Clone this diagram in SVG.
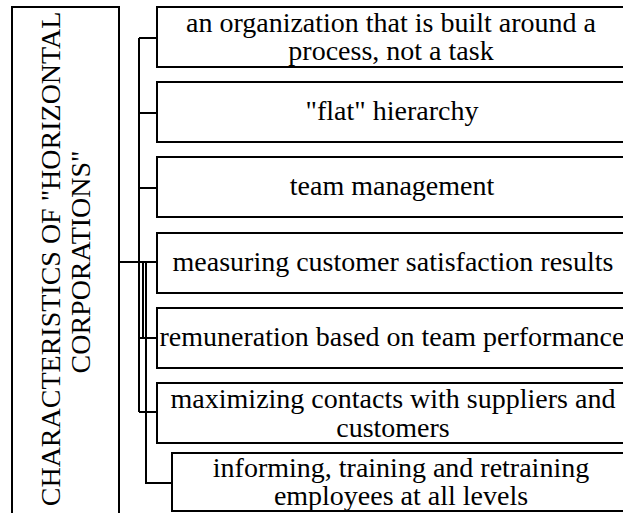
<svg xmlns="http://www.w3.org/2000/svg" width="623" height="513" viewBox="0 0 623 513">
<style>
.box{fill:#fff;stroke:#000;stroke-width:2}
.ln{fill:none;stroke:#000;stroke-width:2}
.t{font-family:'Liberation Serif',serif;font-size:28px;fill:#000;text-anchor:middle}
</style>
<defs>
<rect id="boxShape" class="box" width="470" height="60"/>
</defs>
<rect width="623" height="513" fill="#fff"/>
<g id="connectors">
<path class="ln" d="M119,262H157M139,38V412M139,38H157M139,113H157M139,188H157M139,338H157M139,412H157M143,262V338M146,262V483H172"/>
</g>
<g id="root">
<rect class="box" x="12" y="7" width="107" height="520"/>
<text class="t" transform="translate(60,259) rotate(-90)">CHARACTERISTICS OF "HORIZONTAL</text>
<text class="t" transform="translate(90,262) rotate(-90)">CORPORATIONS"</text>
</g>
<g id="n1">
<use href="#boxShape" x="157" y="7"/>
<text class="t" x="391" y="32">an organization that is built around a</text>
<text class="t" x="391" y="60">process, not a task</text>
</g>
<g id="n2">
<use href="#boxShape" x="157" y="82"/>
<text class="t" x="392" y="120">"flat" hierarchy</text>
</g>
<g id="n3">
<use href="#boxShape" x="157" y="157"/>
<text class="t" x="392" y="195">team management</text>
</g>
<g id="n4">
<use href="#boxShape" x="157" y="233"/>
<text class="t" x="393" y="271">measuring customer satisfaction results</text>
</g>
<g id="n5">
<use href="#boxShape" x="157" y="308"/>
<text class="t" x="392" y="346">remuneration based on team performance</text>
</g>
<g id="n6">
<use href="#boxShape" x="157" y="383"/>
<text class="t" x="393" y="408">maximizing contacts with suppliers and</text>
<text class="t" x="393" y="437">customers</text>
</g>
<g id="n7">
<rect class="box" x="172" y="453" width="460" height="58"/>
<text class="t" x="401" y="477">informing, training and retraining</text>
<text class="t" x="401" y="505">employees at all levels</text>
</g>
</svg>
